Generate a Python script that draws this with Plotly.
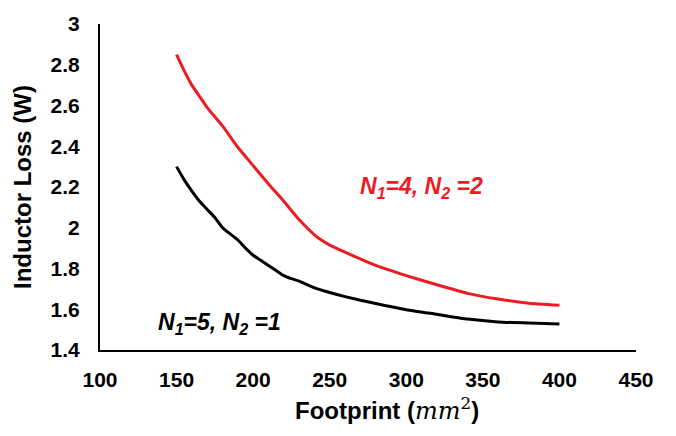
import plotly.graph_objects as go

# Footprint (mm^2) sample points for each winding configuration
footprint_a = [150, 155, 160, 165, 170, 180, 190, 200, 210, 220, 230, 240,
               245, 250, 260, 280, 300, 320, 340, 360, 380, 400]
loss_a = [2.85, 2.77, 2.70, 2.645, 2.59, 2.50, 2.395, 2.305, 2.215, 2.13, 2.04, 1.965,
          1.937, 1.915, 1.88, 1.815, 1.765, 1.72, 1.678, 1.65, 1.63, 1.62]  # N1=4, N2=2

footprint_b = [150, 155, 160, 165, 170, 175, 180, 185, 190, 195, 200, 205, 210,
               215, 220, 225, 230, 240, 250, 260, 280, 300, 320, 340, 360, 380, 400]
loss_b = [2.30, 2.235, 2.18, 2.13, 2.09, 2.05, 2.00, 1.97, 1.94, 1.90, 1.865, 1.84,
          1.815, 1.79, 1.765, 1.75, 1.738, 1.705, 1.682, 1.662, 1.628, 1.598, 1.575,
          1.552, 1.538, 1.532, 1.528]  # N1=5, N2=1

x_ticks = [100, 150, 200, 250, 300, 350, 400, 450]
y_ticks = [1.4, 1.6, 1.8, 2.0, 2.2, 2.4, 2.6, 2.8, 3.0]
y_tick_text = ["1.4", "1.6", "1.8", "2", "2.2", "2.4", "2.6", "2.8", "3"]

RED = "#ED1C24"
FONT = "Arial, 'Liberation Sans', sans-serif"

fig = go.Figure()
fig.add_trace(go.Scatter(x=footprint_a, y=loss_a, mode="lines",
                         line=dict(color=RED, width=3, shape="spline", smoothing=0.5)))
fig.add_trace(go.Scatter(x=footprint_b, y=loss_b, mode="lines",
                         line=dict(color="black", width=3, shape="spline", smoothing=0.5)))

fig.add_annotation(x=310, y=2.2, xref="x", yref="y",
                   text="<b><i>N<sub>1</sub>=4, N<sub>2</sub> =2</i></b>",
                   showarrow=False, font=dict(family=FONT, size=23, color=RED))
fig.add_annotation(x=178, y=1.53, xref="x", yref="y",
                   text="<b><i>N<sub>1</sub>=5, N<sub>2</sub> =1</i></b>",
                   showarrow=False, font=dict(family=FONT, size=23, color="black"))

# x-axis title with the unit in math italics
fig.add_annotation(x=0.535, y=-0.18, xref="paper", yref="paper",
                   xanchor="center", yanchor="middle", showarrow=False,
                   text="<b>Footprint (</b><span style=\"font-family:'DejaVu Serif', serif\">"
                        "<i>mm</i><sup>2</sup></span><b>)</b>",
                   font=dict(family=FONT, size=24, color="black"))

fig.update_layout(
    width=676, height=436,
    margin=dict(l=100, r=40, t=13, b=86),
    paper_bgcolor="white", plot_bgcolor="white",
    showlegend=False,
    font=dict(family=FONT, color="black"),
)
fig.update_xaxes(
    range=[100, 450], tickvals=x_ticks, ticktext=[str(v) for v in x_ticks],
    showgrid=False, zeroline=False,
    showline=True, linecolor="black", linewidth=2,
    ticks="outside", ticklen=10, tickcolor="rgba(0,0,0,0)",
    tickfont=dict(family=FONT, size=21, color="black", weight="bold"),
)
fig.update_yaxes(
    range=[1.4, 3.0], tickvals=y_ticks, ticktext=y_tick_text,
    showgrid=False, zeroline=False,
    showline=True, linecolor="black", linewidth=2,
    ticks="outside", ticklen=14, tickcolor="rgba(0,0,0,0)",
    tickfont=dict(family=FONT, size=21, color="black", weight="bold"),
    title=dict(text="<b>Inductor Loss (W)</b>", standoff=12,
               font=dict(family=FONT, size=24, color="black")),
)

fig.write_html("out.html")
